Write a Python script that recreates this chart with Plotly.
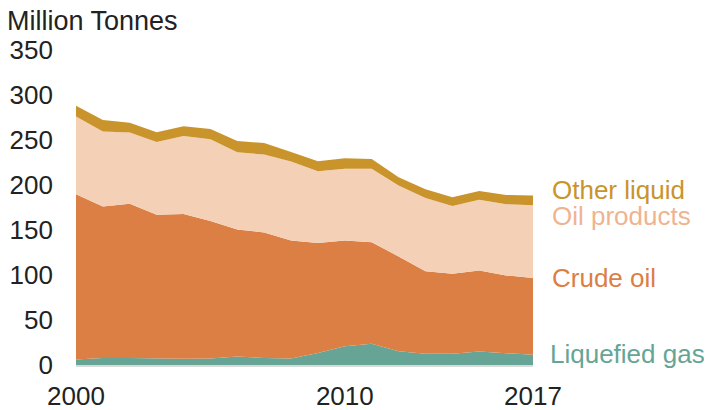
import plotly.graph_objects as go

years = list(range(2000, 2018))
liquefied_gas = [6.1, 7.9, 7.9, 7.3, 6.9, 7.3, 9.4, 7.9, 7.3, 13.2, 20.9, 23.5, 15.3, 12.4, 12.4, 15.0, 13.2, 11.3]
crude_oil = [183.5, 168.1, 171.2, 159.7, 161.0, 152.6, 141.2, 139.3, 131.1, 122.3, 117.4, 112.9, 105.3, 91.8, 89.0, 89.9, 86.3, 85.5]
oil_products = [86.6, 83.4, 79.3, 80.7, 86.6, 90.8, 85.8, 86.6, 87.6, 79.7, 79.7, 81.7, 78.8, 81.4, 75.4, 78.8, 79.2, 80.7]
other_liquid = [11.8, 12.8, 10.8, 10.8, 10.8, 11.4, 12.6, 12.8, 10.8, 11.3, 11.8, 10.8, 9.3, 9.7, 9.7, 9.5, 10.3, 10.7]

series = [
    ("Liquefied gas", liquefied_gas, "#66a595", "#66a595"),
    ("Crude oil", crude_oil, "#db7f45", "#db7f45"),
    ("Oil products", oil_products, "#f4d0b7", "#efb48f"),
    ("Other liquid", other_liquid, "#c9942b", "#c9942b"),
]

FONT = "Liberation Sans, Arial, sans-serif"
TXT = "#222222"

fig = go.Figure()
for name, vals, fill, _ in series:
    fig.add_trace(go.Scatter(
        x=years, y=vals, name=name, stackgroup="one", mode="lines",
        line=dict(width=0, color=fill), fillcolor=fill, hoverinfo="x+y+name",
    ))

# series labels at the right of the plot
label_y = {"Other liquid": 194.8, "Oil products": 165.9, "Crude oil": 97.2, "Liquefied gas": 11.9}
label_dx = {"Other liquid": 18, "Oil products": 18, "Crude oil": 18, "Liquefied gas": 16}
for name, vals, fill, txtcol in series:
    fig.add_annotation(
        x=1, xref="paper", y=label_y[name], yref="y", text=name, showarrow=False,
        xanchor="left", yanchor="middle", xshift=label_dx[name], borderpad=0,
        font=dict(family=FONT, size=26, color=txtcol),
    )

# unit title
fig.add_annotation(
    x=0, xref="paper", y=1, yref="paper", text="Million Tonnes", showarrow=False,
    xanchor="left", yanchor="middle", xshift=-70, yshift=29, borderpad=0,
    font=dict(family=FONT, size=27, color=TXT),
)

# page body has an 8px margin, so the figure is sized to fit the 712x410 window
fig.update_layout(
    width=704, height=402,
    margin=dict(l=68, r=179, t=42, b=45, autoexpand=False),
    paper_bgcolor="white", plot_bgcolor="white",
    showlegend=False,
    font=dict(family=FONT, size=26, color=TXT),
    xaxis=dict(range=[2000, 2017], tickvals=[2000, 2010, 2017], showgrid=False, zeroline=False,
               showline=True, linecolor="#dadada", linewidth=1.5, ticks="", ticklabelstandoff=7,
               automargin=False, tickfont=dict(family=FONT, size=26, color=TXT)),
    yaxis=dict(range=[0, 350], tickvals=[0, 50, 100, 150, 200, 250, 300, 350], showgrid=False,
               zeroline=False, showline=False, ticks="", ticklabelstandoff=22,
               automargin=False, tickfont=dict(family=FONT, size=26, color=TXT)),
)

fig.write_html("out.html")
